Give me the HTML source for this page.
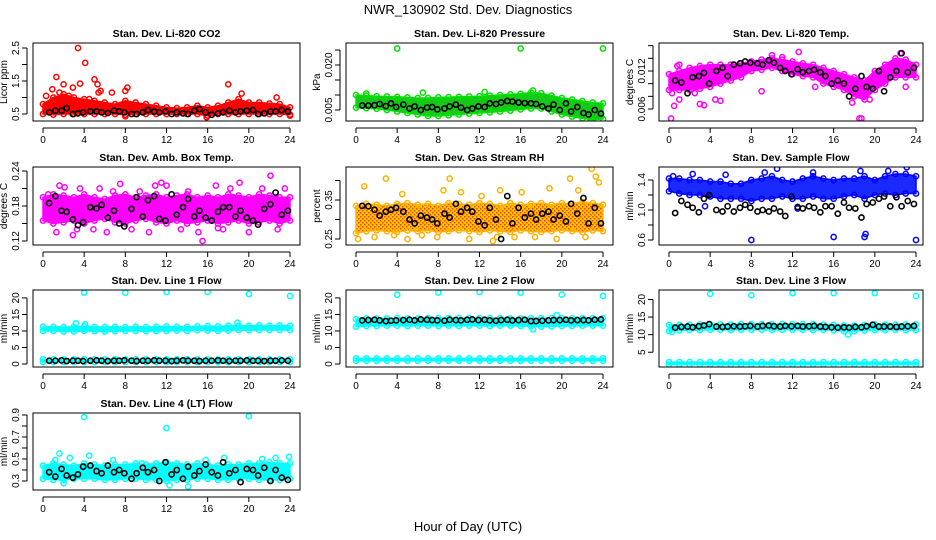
<!DOCTYPE html>
<html><head><meta charset="utf-8"><style>
body{margin:0;background:#fff}
svg{display:block;font-family:"Liberation Sans",sans-serif}
</style></head><body>
<svg id="chart" width="936" height="540" viewBox="0 0 936 540" xmlns="http://www.w3.org/2000/svg">
<defs>
<pattern id="rhpat" width="4" height="4" patternUnits="userSpaceOnUse"><rect width="4" height="4" fill="#ffc800"/><rect width="1.5" height="1.5" fill="#f04000"/><rect x="2" y="2" width="1.5" height="1.5" fill="#f04000"/></pattern>
</defs>
<text x="468" y="14" text-anchor="middle" font-size="13">NWR_130902  Std. Dev. Diagnostics</text>
<text x="468" y="531" text-anchor="middle" font-size="13">Hour of Day (UTC)</text>
</svg>
<script>
const hours = [0,1,2,3,4,5,6,7,8,9,10,11,12,13,14,15,16,17,18,19,20,21,22,23,24];
const xTicks = [0,4,8,12,16,20,24];
const blackHours = [0.6,1.2,1.8,2.3,2.9,3.4,3.9,4.6,5.2,5.7,6.3,6.9,7.4,7.9,8.6,9.1,9.7,10.2,10.8,11.3,11.9,12.5,13.0,13.6,14.1,14.7,15.2,15.8,16.4,17.0,17.5,18.1,18.7,19.2,19.8,20.4,20.9,21.5,22.1,22.6,23.2,23.8];

// P1 CO2
const p1Ticks=[0.5,1,1.5,2,2.5];
const p1Labels=['0.5','','1.5','','2.5'];
const p1Lo=[0.5,0.48,0.5,0.5,0.5,0.5,0.5,0.5,0.48,0.5,0.5,0.5,0.5,0.5,0.5,0.5,0.45,0.5,0.5,0.5,0.5,0.5,0.5,0.5,0.48];
const p1Hi=[0.8,1.0,1.1,1.0,0.95,0.9,0.85,0.8,0.9,0.85,0.8,0.75,0.7,0.68,0.7,0.75,0.7,0.75,0.85,0.95,0.85,0.85,0.82,0.8,0.7];
const p1OutX=[3.4,4.1,1.3,2.0,2.9,3.6,0.9,5.0,5.3,5.6,5.4,6.7,8.2,8.0,4.5,18.0,19.3,22.7,0.3,15.9,24,8.0,1.6,2.5];
const p1OutY=[2.5,2.05,1.62,1.4,1.3,1.42,1.25,1.55,1.4,1.2,1.15,1.15,1.3,1.2,0.95,1.4,1.12,1.0,1.05,0.4,0.45,0.43,1.15,1.05];
const p1Black=[0.55,0.6,0.6,0.68,0.5,0.52,0.55,0.58,0.58,0.55,0.53,0.6,0.58,0.55,0.5,0.5,0.55,0.62,0.57,0.55,0.58,0.5,0.55,0.52,0.5,0.6,0.65,0.55,0.48,0.52,0.55,0.6,0.55,0.58,0.6,0.62,0.5,0.52,0.57,0.58,0.62,0.58];

// P2 Pressure
const p2Ticks=[0.005,0.010,0.015,0.020,0.025];
const p2Labels=['0.005','','','0.020',''];
const p2Lo=[.0058,.0056,.0054,.0050,.0045,.0040,.0035,.0030,.0030,.0032,.0035,.0038,.0040,.0042,.0045,.0048,.0052,.0055,.0055,.0045,.0035,.0028,.0022,.0018,.0020];
const p2Hi=[.0100,.0098,.0096,.0095,.0094,.0092,.0090,.0090,.0092,.0093,.0094,.0095,.0096,.0098,.0100,.0102,.0104,.0108,.0106,.0098,.0090,.0085,.0080,.0075,.0072];
const p2OutX=[4,16,24,1,6.5,12.5,17.2,22.8];
const p2OutY=[.0255,.0255,.0255,.0105,.0108,.0110,.0115,.0020];
const p2Black=[.0065,.0065,.0066,.0070,.0063,.0072,.0060,.0068,.0055,.0062,.0050,.0058,.0060,.0052,.0055,.0062,.0068,.0058,.0050,.0055,.0062,.0060,.0072,.0070,.0075,.0080,.0078,.0075,.0073,.0072,.0070,.0062,.0055,.0068,.0050,.0072,.0045,.0060,.0040,.0035,.0050,.0038];

// P3 Li-820 Temp
const p3Ticks=[0.006,0.008,0.010,0.012,0.014,0.016];
const p3Labels=['0.006','','','0.012','',''];
const p3Lo=[.0090,.0090,.0090,.0092,.0095,.0100,.0105,.0110,.0120,.0122,.0125,.0120,.0115,.0112,.0110,.0100,.0095,.0090,.0080,.0075,.0090,.0100,.0110,.0110,.0110];
const p3Hi=[.0115,.0120,.0125,.0128,.0130,.0130,.0130,.0132,.0135,.0138,.0140,.0138,.0135,.0132,.0130,.0125,.0120,.0115,.0110,.0105,.0120,.0130,.0140,.0138,.0130];
const p3OutX=[0.2,0.5,0.3,1,2.5,3,3.4,4.5,5,10,12.6,9,18.5,18.7,17.8,19.5,23,1,22.5,11,14.2,0.8];
const p3OutY=[.0045,.0065,.0085,.0075,.0085,.0068,.0066,.0075,.0073,.0145,.0150,.0088,.0045,.0045,.0070,.0075,.0095,.0130,.0148,.0142,.0095,.0128];
const p3Black=[.0105,.0102,.0085,.0110,.0112,.0117,.0100,.0120,.0125,.0112,.0130,.0132,.0135,.0133,.0132,.0130,.0137,.0133,.0125,.0120,.0115,.0123,.0118,.0120,.0122,.0118,.0112,.0100,.0105,.0100,.0080,.0092,.0112,.0095,.0092,.0120,.0088,.0110,.0120,.0148,.0118,.0125];

// P4 Amb box temp
const p4Ticks=[0.12,0.15,0.18,0.21,0.24];
const p4Labels=['0.12','','0.18','','0.24'];
const p4Lo=[.155,.150,.152,.155,.150,.155,.158,.152,.150,.155,.158,.152,.150,.155,.150,.152,.155,.150,.152,.155,.150,.152,.155,.150,.155];
const p4Hi=[.195,.200,.198,.195,.200,.195,.192,.198,.200,.195,.198,.200,.195,.198,.200,.195,.198,.195,.200,.198,.195,.200,.198,.195,.195];
const p4OutX=[1.3,1.6,2.1,3.3,3.6,4.9,5.5,6.2,6.8,7.5,8.6,9.4,10.3,11.5,12.0,13.4,14.1,15.1,15.5,16.8,17.5,18.2,19.1,20.0,21.3,22.1,22.8,23.5,0.5,2.9,10.9,17.0];
const p4OutY=[.135,.215,.212,.140,.210,.140,.210,.135,.205,.218,.140,.205,.135,.220,.215,.140,.205,.135,.120,.215,.140,.210,.220,.135,.210,.232,.140,.210,.200,.130,.215,.142];
const p4Black=[.185,.197,.172,.170,.157,.147,.152,.178,.176,.182,.160,.172,.150,.145,.175,.195,.162,.190,.197,.158,.155,.200,.165,.178,.192,.162,.172,.160,.155,.170,.178,.178,.162,.172,.160,.155,.148,.175,.183,.203,.165,.172];

// P5 Gas stream RH
const p5Ticks=[0.25,0.30,0.35,0.40];
const p5Labels=['0.25','','0.35',''];
const p5Lo=[.265,.270,.272,.270,.268,.272,.270,.272,.268,.270,.272,.270,.268,.272,.270,.268,.272,.270,.268,.270,.272,.270,.268,.272,.270];
const p5Hi=[.335,.340,.338,.335,.340,.342,.338,.340,.335,.342,.340,.338,.342,.340,.335,.342,.338,.340,.342,.338,.342,.340,.345,.342,.338];
const p5OutX=[0.2,0.8,1.8,2.9,4.5,5.0,6.4,7.9,9.1,10.2,11.0,12.2,13.3,14.0,15.4,16.1,17.4,18.8,19.5,20.8,21.6,22.3,22.9,23.6,3.7,8.5,13.7,23.3];
const p5OutY=[.250,.385,.255,.405,.365,.250,.260,.255,.405,.370,.250,.360,.245,.375,.255,.370,.255,.380,.250,.405,.375,.255,.430,.395,.260,.375,.255,.410];
const p5Black=[.335,.334,.325,.310,.320,.325,.330,.320,.300,.290,.310,.305,.300,.290,.315,.305,.340,.320,.330,.320,.295,.285,.330,.300,.250,.360,.290,.330,.305,.315,.300,.315,.320,.300,.310,.295,.340,.315,.355,.290,.330,.290];

// P6 Sample flow
const p6Ticks=[0.6,0.8,1.0,1.2,1.4];
const p6Labels=['0.6','','1.0','','1.4'];
const p6Lo=[1.25,1.22,1.20,1.20,1.18,1.15,1.15,1.15,1.12,1.15,1.15,1.18,1.15,1.15,1.18,1.15,1.15,1.18,1.20,1.15,1.20,1.22,1.20,1.22,1.22];
const p6Hi=[1.42,1.42,1.40,1.40,1.38,1.38,1.35,1.35,1.40,1.42,1.45,1.40,1.38,1.42,1.45,1.42,1.40,1.42,1.42,1.45,1.40,1.45,1.48,1.48,1.45];
const p6OutX=[8,16,19,19.1,24,2.3,5.5,9.3,10.5,14.0,18.6,21.3,23.1,3.5,12.5,0.4];
const p6OutY=[0.60,0.64,0.64,0.68,0.60,1.48,1.47,1.50,1.55,1.50,1.52,1.52,1.57,1.05,1.02,1.45];
const p6Black=[.96,1.12,1.07,1.03,.97,1.15,1.20,1.00,.98,1.05,.98,1.03,1.07,1.03,.98,1.00,.98,1.02,.98,.92,1.18,1.04,1.02,1.05,1.03,.97,1.05,1.05,.95,1.10,1.03,1.02,.90,1.08,1.10,1.15,1.18,1.05,1.17,1.05,1.12,1.08];

// P7 Line 1 flow
const p7Ticks=[0,5,10,15,20];
const p7Labels=['0','5','10','15','20'];
const p7Lo=[10.0,10.0,9.8,9.8,10.0,9.9,9.8,9.9,10.0,10.0,9.9,10.0,10.0,10.1,10.0,10.2,10.1,10.0,10.1,10.3,10.2,10.3,10.3,10.3,10.3];
const p7Hi=[11.3,11.3,11.2,11.3,11.4,11.2,11.2,11.3,11.2,11.3,11.2,11.3,11.4,11.3,11.3,11.4,11.5,11.4,11.6,11.6,11.6,11.7,11.6,11.7,11.6];
const p7Lo2=[0.6,0.6,0.6,0.6,0.6,0.6,0.6,0.6,0.6,0.6,0.6,0.6,0.6,0.6,0.6,0.6,0.6,0.6,0.6,0.6,0.6,0.6,0.6,0.6,0.6];
const p7Hi2=[1.4,1.4,1.4,1.4,1.4,1.4,1.4,1.4,1.4,1.4,1.4,1.4,1.4,1.4,1.4,1.4,1.4,1.4,1.4,1.4,1.4,1.4,1.4,1.4,1.4];
const p7OutX=[4,8,12,16,20,24,3.2,4.1,18.9];
const p7OutY=[21.6,21.6,21.8,21.8,21.2,20.6,12.3,12.0,12.5];
const p7Black=[1.0,1.0,1.1,0.9,1.0,1.0,0.9,1.0,1.1,1.0,0.9,1.0,1.0,1.1,1.0,0.9,1.0,1.0,1.1,1.0,1.0,0.9,1.0,1.1,1.0,1.0,0.9,1.0,1.0,1.1,1.0,0.9,1.0,1.0,1.1,1.0,1.0,0.9,1.0,1.0,1.1,1.0];

// P8 Line 2 flow
const p8Lo=[11.3,11.5,11.5,11.6,11.6,11.5,11.6,11.6,11.5,11.6,11.5,11.6,11.6,11.5,11.6,11.6,11.5,11.4,11.3,11.4,11.5,11.5,11.6,11.6,11.6];
const p8Hi=[13.6,13.8,13.8,13.8,13.9,13.8,13.8,13.9,13.9,13.9,13.9,13.9,13.9,13.9,13.9,13.8,13.8,13.9,13.9,13.9,13.9,13.9,13.9,13.9,13.9];
const p8Lo2=[1.0,1.0,1.0,1.0,1.0,1.0,1.0,1.0,1.0,1.0,1.0,1.0,1.0,1.0,1.0,1.0,1.0,1.0,1.0,1.0,1.0,1.0,1.0,1.0,1.0];
const p8Hi2=[1.7,1.7,1.7,1.7,1.7,1.7,1.7,1.7,1.7,1.7,1.7,1.7,1.7,1.7,1.7,1.7,1.7,1.7,1.7,1.7,1.7,1.7,1.7,1.7,1.7];
const p8OutX=[4,8,12,16,20,24,17.2,19.5];
const p8OutY=[21.0,21.6,21.8,21.6,21.0,20.6,10.5,14.8];
const p8Black=[13.2,13.3,13.4,13.2,13.0,13.1,13.2,13.3,13.4,13.2,13.5,13.4,13.3,13.2,13.1,13.4,13.3,13.2,13.4,13.5,13.3,13.4,13.2,13.1,13.3,13.4,13.2,13.3,13.4,13.0,13.0,13.1,13.2,13.3,13.3,13.4,13.2,13.3,13.3,13.2,13.4,13.5];

// P9 Line 3 flow
const p9Ticks=[5,10,15,20];
const p9Labels=['5','10','15','20'];
const p9Lo=[11.0,11.2,11.3,11.3,11.4,11.4,11.3,11.4,11.4,11.4,11.3,11.4,11.4,11.4,11.3,11.4,11.2,11.0,11.0,11.2,11.3,11.3,11.4,11.3,11.3];
const p9Hi=[12.8,12.8,12.8,12.9,12.9,12.9,12.9,13.0,13.0,13.0,13.0,13.0,13.0,13.0,13.0,12.9,12.8,12.6,12.6,12.8,12.9,12.9,12.9,12.9,12.9];
const p9Lo2=[1.5,1.5,1.5,1.5,1.5,1.5,1.5,1.5,1.5,1.5,1.5,1.5,1.5,1.5,1.5,1.5,1.5,1.5,1.5,1.5,1.5,1.5,1.5,1.5,1.5];
const p9Hi2=[2.2,2.2,2.2,2.2,2.2,2.2,2.2,2.2,2.2,2.2,2.2,2.2,2.2,2.2,2.2,2.2,2.2,2.2,2.2,2.2,2.2,2.2,2.2,2.2,2.2];
const p9OutX=[4,8,12,16,20,24,17.4,0.3];
const p9OutY=[21.6,21.2,21.8,21.8,21.8,21.0,10.0,10.8];
const p9Black=[12.0,12.2,12.3,12.1,12.4,12.6,13.0,12.3,12.2,12.3,12.4,12.3,12.4,12.5,12.3,12.5,12.6,12.4,12.3,12.5,12.4,12.5,12.3,12.4,12.5,12.3,12.2,12.1,12.0,12.1,12.0,12.2,12.1,12.4,12.8,12.3,12.3,12.3,12.2,12.3,12.4,12.5];

// P10 Line 4 (LT) flow
const p10Ticks=[0.3,0.4,0.5,0.6,0.7,0.8,0.9];
const p10Labels=['0.3','','0.5','','0.7','','0.9'];
const p10Lo=[0.32,0.31,0.31,0.32,0.32,0.32,0.31,0.31,0.32,0.32,0.31,0.31,0.30,0.31,0.31,0.32,0.32,0.31,0.31,0.32,0.32,0.31,0.31,0.31,0.32];
const p10Hi=[0.44,0.46,0.45,0.44,0.46,0.45,0.44,0.45,0.45,0.46,0.45,0.46,0.47,0.46,0.45,0.46,0.45,0.44,0.45,0.45,0.46,0.46,0.47,0.46,0.46];
const p10OutX=[4,12,20,1.6,2.6,4.5,12.3,14.1,17.6,23.9,1.2,6.8,9.6,15.8,21.3,22.6,2.0];
const p10OutY=[0.88,0.78,0.89,0.55,0.51,0.53,0.26,0.25,0.51,0.52,0.49,0.49,0.46,0.49,0.50,0.51,0.28];
const p10Black=[0.38,0.34,0.41,0.35,0.33,0.36,0.43,0.44,0.39,0.37,0.44,0.38,0.40,0.37,0.32,0.37,0.42,0.38,0.40,0.30,0.47,0.36,0.40,0.32,0.43,0.35,0.39,0.45,0.38,0.35,0.47,0.37,0.40,0.29,0.41,0.40,0.35,0.42,0.30,0.40,0.33,0.31];

const cols=[{bx0:33,bx1:300,h0:43,h24:290},{bx0:346,bx1:613,h0:356,h24:603},{bx0:659,bx1:923,h0:669,h24:916}];
const rows=[{top:43,bot:121},{top:167,bot:245},{top:290,bot:367},{top:413,bot:490}];

const panels=[
 {name:'co2',c:0,r:0,title:'Stan. Dev. Li-820 CO2',ylab:'Licor ppm',ylim:[0.288,2.652],ticks:p1Ticks,labels:p1Labels,color:'#ff0000',fill:'#ff0000',lo:p1Lo,hi:p1Hi,ox:p1OutX,oy:p1OutY,black:p1Black},
 {name:'pressure',c:1,r:0,title:'Stan. Dev. Li-820 Pressure',ylab:'kPa',ylim:[0.00133,0.02733],ticks:p2Ticks,labels:p2Labels,color:'#00e000',fill:'#18c818',lo:p2Lo,hi:p2Hi,ox:p2OutX,oy:p2OutY,black:p2Black},
 {name:'li820-temp',c:2,r:0,title:'Stan. Dev. Li-820 Temp.',ylab:'degrees C',ylim:[0.00411,0.01642],ticks:p3Ticks,labels:p3Labels,color:'#ff00ff',fill:'#ff00ff',lo:p3Lo,hi:p3Hi,ox:p3OutX,oy:p3OutY,black:p3Black},
 {name:'amb-box-temp',c:0,r:1,title:'Stan. Dev. Amb. Box Temp.',ylab:'degrees C',ylim:[0.1131,0.2469],ticks:p4Ticks,labels:p4Labels,color:'#ff00ff',fill:'#ff00ff',lo:p4Lo,hi:p4Hi,ox:p4OutX,oy:p4OutY,black:p4Black},
 {name:'gas-rh',c:1,r:1,title:'Stan. Dev. Gas Stream RH',ylab:'percent',ylim:[0.2346,0.4346],ticks:p5Ticks,labels:p5Labels,color:'#ffb000',fill:'url(#rhpat)',lo:p5Lo,hi:p5Hi,ox:p5OutX,oy:p5OutY,black:p5Black},
 {name:'sample-flow',c:2,r:1,title:'Stan. Dev. Sample Flow',ylab:'ml/min',ylim:[0.5333,1.573],ticks:p6Ticks,labels:p6Labels,color:'#0000ff',fill:'#1a2aff',lo:p6Lo,hi:p6Hi,ox:p6OutX,oy:p6OutY,black:p6Black},
 {name:'line1-flow',c:0,r:2,title:'Stan. Dev. Line 1 Flow',ylab:'ml/min',ylim:[-0.9,22.4],ticks:p7Ticks,labels:p7Labels,color:'#00ffff',fill:'#00ffff',lo:p7Lo,hi:p7Hi,lo2:p7Lo2,hi2:p7Hi2,ox:p7OutX,oy:p7OutY,black:p7Black},
 {name:'line2-flow',c:1,r:2,title:'Stan. Dev. Line 2 Flow',ylab:'ml/min',ylim:[-0.9,22.4],ticks:p7Ticks,labels:p7Labels,color:'#00ffff',fill:'#00ffff',lo:p8Lo,hi:p8Hi,lo2:p8Lo2,hi2:p8Hi2,ox:p8OutX,oy:p8OutY,black:p8Black},
 {name:'line3-flow',c:2,r:2,title:'Stan. Dev. Line 3 Flow',ylab:'ml/min',ylim:[0.8,22.7],ticks:p9Ticks,labels:p9Labels,color:'#00ffff',fill:'#00ffff',lo:p9Lo,hi:p9Hi,lo2:p9Lo2,hi2:p9Hi2,ox:p9OutX,oy:p9OutY,black:p9Black},
 {name:'line4-flow',c:0,r:3,title:'Stan. Dev. Line 4 (LT) Flow',ylab:'ml/min',ylim:[0.218,0.918],ticks:p10Ticks,labels:p10Labels,color:'#00ffff',fill:'#00ffff',lo:p10Lo,hi:p10Hi,ox:p10OutX,oy:p10OutY,black:p10Black}
];

const NS='http://www.w3.org/2000/svg';
const svg=document.getElementById('chart');
function mk(tag,attrs,parent){const e=document.createElementNS(NS,tag);for(const k in attrs)e.setAttribute(k,attrs[k]);(parent||svg).appendChild(e);return e;}

panels.forEach(p=>{
 const C=cols[p.c],R=rows[p.r];
 const xs=h=>C.h0+(C.h24-C.h0)*h/24;
 const ys=v=>R.bot-(v-p.ylim[0])/(p.ylim[1]-p.ylim[0])*(R.bot-R.top);
 const g=mk('g',{});
 
 
 const clip='clip-'+p.name;
 const cp=mk('clipPath',{id:clip},g);
 mk('rect',{x:C.bx0,y:R.top,width:C.bx1-C.bx0,height:R.bot-R.top},cp);
 const plot=mk('g',{'clip-path':'url(#'+clip+')'},g);
 
 
 function band(lo,hi,nm){
  let d='';
  hours.forEach((h,i)=>{d+=(i?'L':'M')+xs(h).toFixed(1)+','+ys(hi[i]).toFixed(1);});
  for(let i=hours.length-1;i>=0;i--)d+='L'+xs(hours[i]).toFixed(1)+','+ys(lo[i]).toFixed(1);
  const b=mk('path',{d:d+'Z',fill:p.fill,stroke:p.color,'stroke-width':1.5,'stroke-linejoin':'round'},plot);
  
  
  hours.forEach((h,i)=>{
   [lo[i],hi[i]].forEach(v=>{
    const c=mk('circle',{cx:xs(h),cy:ys(v),r:2.6,fill:'none',stroke:p.color,'stroke-width':1.5},plot);
    
    
   });
  });
 }
 band(p.lo,p.hi,'data-band');
 if(p.lo2)band(p.lo2,p.hi2,'data-band-low');
 p.ox.forEach((x,i)=>{
  const c=mk('circle',{cx:xs(x),cy:ys(p.oy[i]),r:2.6,fill:'none',stroke:p.color,'stroke-width':1.5},plot);
  
  
 });
 p.black.forEach((v,i)=>{
  const c=mk('circle',{cx:xs(blackHours[i]),cy:ys(v),r:2.6,fill:'none',stroke:'#000','stroke-width':1.6},plot);
  
  
 });
 const box=mk('rect',{x:C.bx0,y:R.top,width:C.bx1-C.bx0,height:R.bot-R.top,fill:'none',stroke:'#000','stroke-width':1},g);
 
 
 const t=mk('text',{x:(C.bx0+C.bx1)/2,y:R.top-6,'text-anchor':'middle','font-size':10.5,'font-weight':'bold'},g);
 t.textContent=p.title;
 
 
 const xa=mk('g',{},g);
 
 
 mk('line',{x1:xs(0),x2:xs(24),y1:R.bot+7,y2:R.bot+7,stroke:'#000'},xa);
 xTicks.forEach(h=>{
  mk('line',{x1:xs(h),x2:xs(h),y1:R.bot+7,y2:R.bot+12,stroke:'#000'},xa);
  const l=mk('text',{x:xs(h),y:R.bot+22,'text-anchor':'middle','font-size':10},xa);
  l.textContent=String(h);
  
  
 });
 const ya=mk('g',{},g);
 
 
 const ax=C.bx0-6;
 mk('line',{x1:ax,x2:ax,y1:ys(p.ticks[0]),y2:ys(p.ticks[p.ticks.length-1]),stroke:'#000'},ya);
 p.ticks.forEach((v,i)=>{
  const y=ys(v);
  mk('line',{x1:ax-5,x2:ax,y1:y,y2:y,stroke:'#000'},ya);
  if(p.labels[i]){
   const l=mk('text',{x:ax-8,y:y,'text-anchor':'middle','font-size':10,transform:'rotate(-90 '+(ax-8)+' '+y+')'},ya);
   l.textContent=p.labels[i];
   
   
  }
 });
 const yx=C.bx0-26,yy=(R.top+R.bot)/2;
 const yl=mk('text',{x:yx,y:yy,'text-anchor':'middle','font-size':10,transform:'rotate(-90 '+yx+' '+yy+')'},g);
 yl.textContent=p.ylab;
 
 
});
</script>
</body></html>
